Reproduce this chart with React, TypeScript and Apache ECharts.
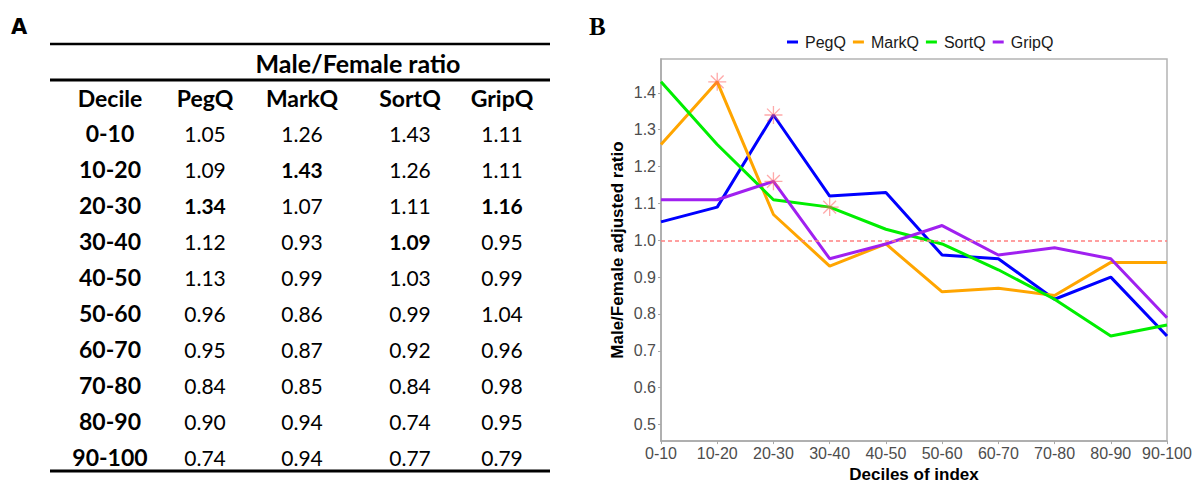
import React, { useEffect, useRef } from "react";
import * as echarts from "echarts";

const deciles = ["0-10", "10-20", "20-30", "30-40", "40-50", "50-60", "60-70", "70-80", "80-90", "90-100"];
const seriesNames = ["PegQ", "MarkQ", "SortQ", "GripQ"];
const pegQ = [1.05, 1.09, 1.34, 1.12, 1.13, 0.96, 0.95, 0.84, 0.9, 0.74];
const markQ = [1.26, 1.43, 1.07, 0.93, 0.99, 0.86, 0.87, 0.85, 0.94, 0.94];
const sortQ = [1.43, 1.26, 1.11, 1.09, 1.03, 0.99, 0.92, 0.84, 0.74, 0.77];
const gripQ = [1.11, 1.11, 1.16, 0.95, 0.99, 1.04, 0.96, 0.98, 0.95, 0.79];
const seriesColors = ["#0000ff", "#ffa500", "#00ee00", "#a020f0"];
// highlighted (bold / starred) cells: [series index, decile index]
const highlights = [
  [1, 1],
  [0, 2],
  [3, 2],
  [2, 3],
];
const yTicks = [0.5, 0.6, 0.7, 0.8, 0.9, 1.0, 1.1, 1.2, 1.3, 1.4];
const referenceLine = 1.0;

const allSeries = [pegQ, markQ, sortQ, gripQ];

const tableFont = "Lato";
const chartFont = "'Liberation Sans', Arial, sans-serif";
const colCenters = [110, 205, 302, 410, 502];
const rowTop = 133;
const rowStep = 36;

function buildTable(): any[] {
  const els: any[] = [];
  const txt = (text: string, x: number, y: number, bold: boolean, size = 21) => ({
    type: "text",
    x,
    y,
    style: {
      text,
      align: "center",
      verticalAlign: "middle",
      font: `${bold ? "bold " : ""}${size}px ${tableFont}`,
      fill: "#000",
    },
  });
  els.push({
    type: "text",
    x: 11,
    y: 27,
    style: { text: "A", align: "left", verticalAlign: "middle", font: "bold 21px 'DejaVu Sans'", fill: "#000" },
  });
  els.push({
    type: "text",
    x: 589,
    y: 26,
    style: { text: "B", align: "left", verticalAlign: "middle", font: "bold 25px 'Liberation Serif'", fill: "#000" },
  });
  const rule = (y: number, w: number) => ({
    type: "line",
    shape: { x1: 50, y1: y, x2: 550, y2: y },
    style: { stroke: "#000", lineWidth: w },
  });
  els.push(rule(44, 2.5));
  els.push(rule(80, 3));
  els.push(rule(471, 3));
  els.push(txt("Male/Female ratio", 358, 63, true, 25));
  els.push(txt("Decile", colCenters[0], 98, true, 23));
  seriesNames.forEach((n, i) => els.push(txt(n, colCenters[i + 1], 98, true, 23)));
  deciles.forEach((d, r) => {
    const y = rowTop + r * rowStep;
    els.push(txt(d, colCenters[0], y, true, 23));
    allSeries.forEach((vals, s) => {
      const bold = highlights.some(([hs, hr]) => hs === s && hr === r);
      els.push(txt(vals[r].toFixed(2), colCenters[s + 1], y, bold, 21));
    });
  });
  return els;
}

export default function App() {
  const ref = useRef<HTMLDivElement>(null);
  useEffect(() => {
    document.body.style.margin = "0";
    if (!ref.current) return;
    const chart = echarts.init(ref.current, undefined, { renderer: "svg" });
    const axisGray = "#a8a8a8";
    const lineSeries = seriesNames.map((name, i) => ({
      name,
      type: "line",
      data: allSeries[i],
      symbol: "none",
      lineStyle: { width: 3, color: seriesColors[i] },
      itemStyle: { color: seriesColors[i] },
      z: 3,
    }));
    const starData = highlights.map(([s, r]) => [deciles[r], allSeries[s][r]]);
    chart.setOption({
      animation: false,
      grid: {
        left: 661,
        top: 59,
        width: 506,
        height: 394,
        show: true,
        borderColor: "#b4b4b4",
        borderWidth: 1.5,
        backgroundColor: "transparent",
      },
      legend: {
        data: seriesNames,
        left: 782,
        top: 29,
        icon: "rect",
        itemWidth: 11,
        itemHeight: 3,
        itemGap: 7,
        textStyle: { fontSize: 16, color: "#1a1a1a", fontFamily: chartFont, padding: [0, 0, 0, 2] },
      },
      xAxis: {
        type: "category",
        data: deciles,
        boundaryGap: false,
        name: "Deciles of index",
        nameLocation: "middle",
        nameGap: 21,
        nameTextStyle: { fontSize: 17, fontWeight: "bold", color: "#000", fontFamily: chartFont },
        axisLine: { lineStyle: { color: axisGray, width: 1.5 } },
        axisTick: { show: true, length: 3, lineStyle: { color: axisGray } },
        axisLabel: { interval: 0, fontSize: 16, color: "#4d4d4d", margin: 4, fontFamily: chartFont },
        splitLine: { show: false },
      },
      yAxis: {
        type: "value",
        min: 0.455,
        max: 1.492,
        name: "Male/Female adjusted ratio",
        nameLocation: "middle",
        nameRotate: 90,
        nameGap: 35,
        nameTextStyle: { fontSize: 17, fontWeight: "bold", color: "#000", fontFamily: chartFont },
        axisLine: { show: true, lineStyle: { color: axisGray, width: 1.5 } },
        axisTick: { show: true, length: 3, lineStyle: { color: axisGray }, customValues: yTicks },
        axisLabel: {
          fontSize: 16,
          color: "#4d4d4d",
          margin: 5,
          fontFamily: chartFont,
          customValues: yTicks,
          formatter: (v: number) => v.toFixed(1),
        },
        splitLine: { show: false },
      },
      graphic: { elements: buildTable() },
      series: [
        ...lineSeries,
        {
          name: "highlight",
          type: "scatter",
          data: starData,
          symbol:
            "path://M10,0 L10,20 M0,10 L20,10 M2.9,2.9 L17.1,17.1 M2.9,17.1 L17.1,2.9",
          symbolSize: 18,
          itemStyle: { color: "none", borderColor: "rgba(255,90,90,0.65)", borderWidth: 1.3 },
          z: 4,
          markLine: {
            silent: true,
            symbol: "none",
            label: { show: false },
            lineStyle: { color: "#ff8080", type: [4, 3], width: 1.5 },
            data: [{ yAxis: referenceLine }],
          },
        },
      ],
    });
    return () => chart.dispose();
  }, []);
  return <div ref={ref} style={{ width: 1202, height: 488 }} />;
}
